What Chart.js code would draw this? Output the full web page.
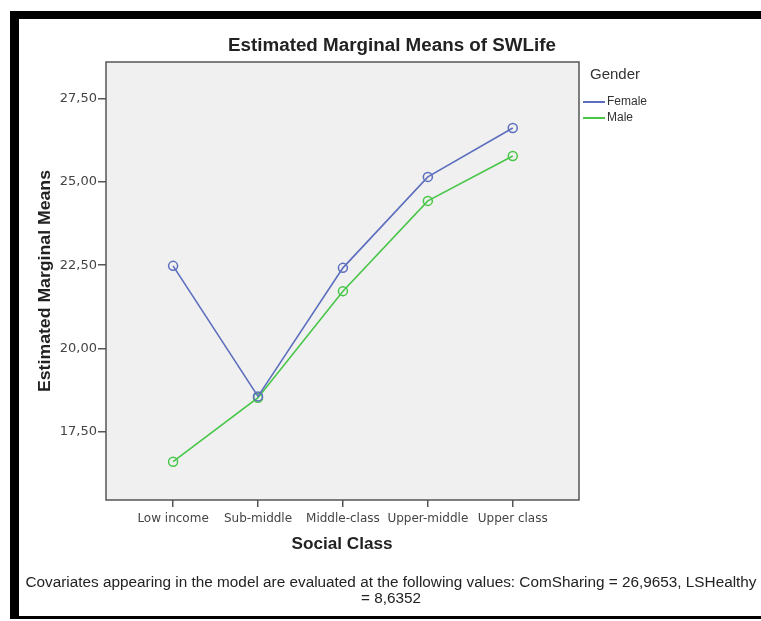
<!DOCTYPE html>
<html>
<head>
<meta charset="utf-8">
<script src="https://cdn.jsdelivr.net/npm/chart.js@4"></script>
<style>
  html, body { margin: 0; padding: 0; background: #fff; }
  #wrap { width: 761px; height: 621px; position: relative; }
</style>
</head>
<body>
<div id="wrap"><canvas id="chart"></canvas></div>
<script>
const categories = ['Low income', 'Sub-middle', 'Middle-class', 'Upper-middle', 'Upper class'];
const female = [22.48, 18.56, 22.42, 25.15, 26.62];
const male = [16.6, 18.52, 21.72, 24.43, 25.78];
const yTicks = [17.5, 20, 22.5, 25, 27.5];

const FONT = '"Liberation Sans", Arial, sans-serif';
const TICKFONT = '"DejaVu Sans", sans-serif';
const blue = 'rgb(92, 110, 190)';
const green = 'rgb(72, 198, 72)';

const toPoints = arr => arr.map((v, i) => ({ x: i, y: v }));

// draw centred text squeezed/stretched to a given width
function fitText(ctx, text, x, y, width) {
    const w = ctx.measureText(text).width;
    ctx.save();
    ctx.translate(x, y);
    ctx.scale(width / w, 1);
    ctx.textAlign = 'center';
    ctx.fillText(text, 0, 0);
    ctx.restore();
}

const decor = {
    id: 'decor',
    beforeDraw(chart) {
        const { ctx, chartArea: a } = chart;
        ctx.save();
        ctx.fillStyle = '#fff';
        ctx.fillRect(0, 0, chart.width, chart.height);
        ctx.fillStyle = '#f0f0f0';
        ctx.fillRect(a.left, a.top, a.right - a.left, a.bottom - a.top);
        ctx.restore();
    },
    afterDraw(chart) {
        const { ctx, chartArea: a } = chart;
        ctx.save();
        // black frame
        ctx.fillStyle = '#000';
        ctx.fillRect(10, 11, 751, 8);
        ctx.fillRect(10, 11, 9, 608);
        ctx.fillRect(10, 616, 751, 3);

        // plot border
        ctx.strokeStyle = '#555';
        ctx.lineWidth = 1.5;
        ctx.strokeRect(a.left, a.top, a.right - a.left, a.bottom - a.top);

        ctx.fillStyle = '#222';
        ctx.textBaseline = 'middle';
        ctx.font = 'bold 18px ' + FONT;
        fitText(ctx, 'Estimated Marginal Means of SWLife', 392, 46, 328);

        ctx.font = 'bold 16px ' + FONT;
        fitText(ctx, 'Social Class', 342, 545, 101);

        ctx.save();
        ctx.translate(46, 281);
        ctx.rotate(-Math.PI / 2);
        ctx.font = 'bold 16px ' + FONT;
        fitText(ctx, 'Estimated Marginal Means', 0, 0, 222);
        ctx.restore();

        // legend
        ctx.textAlign = 'left';
        ctx.fillStyle = '#333';
        ctx.font = '15px ' + FONT;
        ctx.fillText('Gender', 590, 75);
        ctx.font = '12px ' + FONT;
        [['Female', blue, 102], ['Male', green, 118]].forEach(([name, col, y]) => {
            ctx.strokeStyle = col;
            ctx.lineWidth = 2;
            ctx.beginPath();
            ctx.moveTo(583, y);
            ctx.lineTo(605, y);
            ctx.stroke();
            ctx.fillStyle = '#333';
            ctx.fillText(name, 607, y);
        });

        // footnote
        ctx.fillStyle = '#222';
        ctx.font = '14px ' + FONT;
        const note = 'Covariates appearing in the model are evaluated at the following values: ComSharing = 26,9653, LSHealthy';
        const k = 731 / ctx.measureText(note).width;
        fitText(ctx, note, 391, 583, 731);
        fitText(ctx, '= 8,6352', 391, 599, ctx.measureText('= 8,6352').width * k);
        ctx.restore();
    }
};

const ds = (label, data, color) => ({
    label,
    data: toPoints(data),
    borderColor: color,
    borderWidth: 1.6,
    pointRadius: 4.5,
    pointHoverRadius: 4.5,
    pointBorderWidth: 1.5,
    pointBorderColor: color,
    pointBackgroundColor: 'rgba(0,0,0,0)',
    tension: 0
});

new Chart(document.getElementById('chart'), {
    type: 'line',
    data: {
        datasets: [ds('Female', female, blue), ds('Male', male, green)]
    },
    options: {
        responsive: true,
        maintainAspectRatio: false,
        animation: false,
        layout: { padding: { top: 62, right: 182, left: 0, bottom: 0 } },
        plugins: { legend: { display: false }, tooltip: { enabled: false } },
        scales: {
            x: {
                type: 'linear',
                min: -0.79,
                max: 4.78,
                afterBuildTicks: s => { s.ticks = categories.map((c, i) => ({ value: i })); },
                afterFit: s => { s.height = 121; },
                grid: { drawOnChartArea: false, tickLength: 7, color: '#555', lineWidth: 1.5 },
                border: { display: false },
                ticks: {
                    padding: 5,
                    color: '#444',
                    font: { family: TICKFONT, size: 12 },
                    maxRotation: 0,
                    autoSkip: false,
                    callback: v => categories[v]
                }
            },
            y: {
                min: 15.45,
                max: 28.6,
                afterBuildTicks: s => { s.ticks = yTicks.map(v => ({ value: v })); },
                afterFit: s => { s.width = 106; },
                grid: { drawOnChartArea: false, tickLength: 8, color: '#555', lineWidth: 1.5 },
                border: { display: false },
                ticks: {
                    padding: 1,
                    color: '#444',
                    font: { family: TICKFONT, size: 13 },
                    callback: v => v.toFixed(2).replace('.', ',')
                }
            }
        }
    },
    plugins: [decor]
});
</script>
</body>
</html>
